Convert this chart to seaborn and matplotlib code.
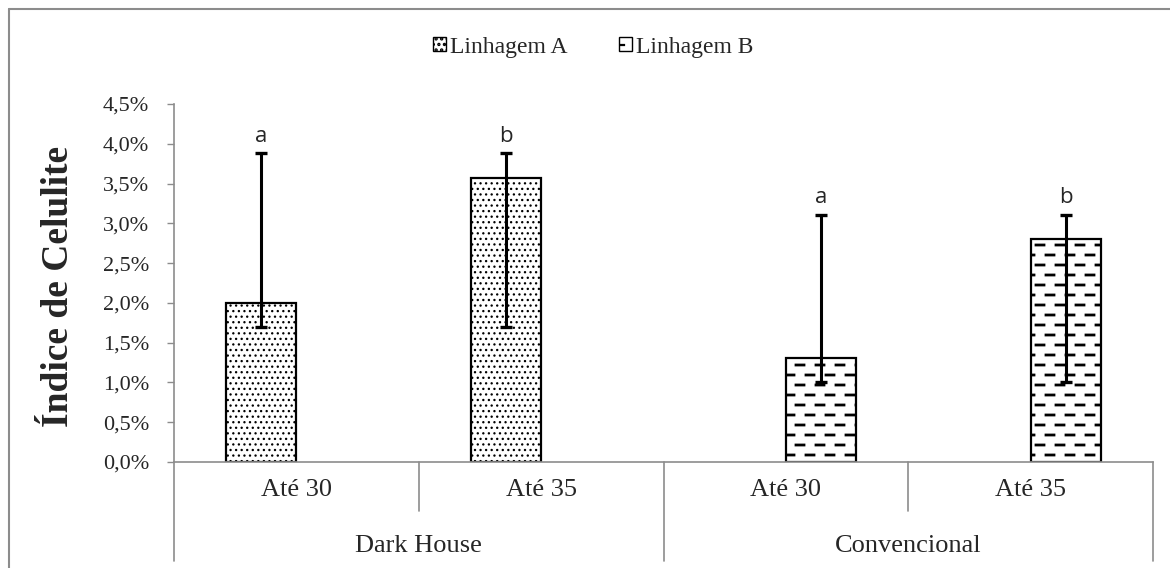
import numpy as np
import pandas as pd
import matplotlib
matplotlib.use("Agg")
import matplotlib.pyplot as plt
import matplotlib.hatch as mhatch
import matplotlib.transforms as mtransforms
from matplotlib.patches import Patch
from matplotlib.path import Path
import seaborn as sns

# data (percent)
groups = ["Dark House", "Dark House", "Convencional", "Convencional"]
periods = ["Até 30", "Até 35", "Até 30", "Até 35"]
linhagem = ["Linhagem A", "Linhagem A", "Linhagem B", "Linhagem B"]
indice = [2.0, 3.57, 1.31, 2.80]
err_low = [1.70, 1.70, 1.00, 1.00]
err_high = [3.88, 3.88, 3.11, 3.11]
letters = ["a", "b", "a", "b"]
yticks = [0.0, 0.5, 1.0, 1.5, 2.0, 2.5, 3.0, 3.5, 4.0, 4.5]

GRAY = "#8c8c8c"


class DashedRows(mhatch.HatchPatternBase):
    """Staggered dashed rows, like the Excel pattern fill (replaces '-')"""
    def __init__(self, hatch, density):
        n_rows = int((hatch.count('-') + hatch.count('+')) * density * 5 / 6)
        n_dash = 5
        dash = 0.08
        self.segments = []
        for r in range(n_rows):
            y = (r + 0.5) / n_rows
            if r % 2 == 0:
                centers = [(k + 0.5) / n_dash for k in range(n_dash)]
            else:
                centers = [k / n_dash for k in range(n_dash + 1)]
            for c in centers:
                x0, x1 = max(0.0, c - dash / 2), min(1.0, c + dash / 2)
                self.segments.append((x0, x1, y))
        self.num_vertices = len(self.segments) * 2

    def set_vertices_and_codes(self, vertices, codes):
        for i, (x0, x1, y) in enumerate(self.segments):
            vertices[2 * i] = (x0, y)
            vertices[2 * i + 1] = (x1, y)
            codes[2 * i] = Path.MOVETO
            codes[2 * i + 1] = Path.LINETO


mhatch._hatch_types = [DashedRows if t is mhatch.HorizontalHatch else t
                       for t in mhatch._hatch_types]

DOTS = '...'
DASHES = '--'


def style_patch(p, hatch):
    p.set_hatch(hatch)
    # thinner dots, heavier dashes
    if hasattr(p, 'set_hatch_linewidth'):
        p.set_hatch_linewidth(0.9 if hatch == DOTS else 2.0)


def main():
    sns.set_style("white")
    plt.rcParams['font.family'] = ['Liberation Serif', 'DejaVu Serif']
    plt.rcParams['hatch.linewidth'] = 1.6

    df = pd.DataFrame({
        'grupo': groups,
        'periodo': periods,
        'linhagem': linhagem,
        'indice': indice,
        'low': err_low,
        'high': err_high,
        'letra': letters,
    })
    df['slot'] = df['grupo'] + " | " + df['periodo']

    fig = plt.figure(figsize=(11.7, 5.68), dpi=100)
    ax = fig.add_axes([174 / 1170, 1 - 462 / 568, 979 / 1170, 358 / 568])

    sns.barplot(data=df, x='slot', y='indice', hue='linhagem',
                order=list(df['slot']), hue_order=["Linhagem A", "Linhagem B"],
                width=0.572, dodge=True, errorbar=None,
                palette=['white', 'white'], edgecolor='black', linewidth=1.6,
                legend=False, ax=ax)

    hatches = [DOTS, DASHES]
    for cont, h in zip(ax.containers, hatches):
        for p in cont:
            style_patch(p, h)

    # error bars and letters at the bar centres
    bars = sorted(ax.patches, key=lambda p: p.get_x())
    xs = np.array([p.get_x() + p.get_width() / 2 for p in bars])
    vals = df['indice'].to_numpy()
    ax.errorbar(xs, vals, yerr=[vals - df['low'], df['high'] - vals],
                fmt='none', ecolor='black', elinewidth=2.2, capsize=4.5,
                capthick=2.4, zorder=5)
    for x, top, letra in zip(xs, df['high'], df['letra']):
        ax.annotate(letra, (x, top), xytext=(0, 8), textcoords='offset points',
                    ha='center', va='baseline', fontsize=16,
                    family=['Open Sans', 'DejaVu Sans'])

    # axes styling
    ax.set_ylim(0, 4.5)
    ax.set_xlim(-0.5, 3.5)
    ax.set_yticks(yticks)
    ax.set_yticklabels([f"{v:.1f}%".replace(".", ",") for v in yticks])
    ax.tick_params(axis='y', direction='out', length=5, width=1, color=GRAY,
                   pad=13, labelsize=16, left=True)
    ax.set_xticks(range(len(periods)))
    ax.set_xticklabels(periods)
    ax.tick_params(axis='x', length=0, pad=12, labelsize=19)
    ax.set_xlabel("")
    ax.set_ylabel("Índice de Celulite", fontsize=27, fontweight='bold')
    ax.yaxis.set_label_coords(-0.100, 0.49)
    sns.despine(ax=ax)
    for side in ['left', 'bottom']:
        ax.spines[side].set_color(GRAY)
        ax.spines[side].set_linewidth(1.2)

    # two-level category axis
    trans = mtransforms.blended_transform_factory(ax.transData, ax.transAxes)
    for x in [-0.5, 1.5, 3.5]:
        ax.plot([x, x], [0, -0.277], color=GRAY, lw=1.2, transform=trans, clip_on=False)
    for x in [0.5, 2.5]:
        ax.plot([x, x], [0, -0.137], color=GRAY, lw=1.2, transform=trans, clip_on=False)
    for grupo in ["Dark House", "Convencional"]:
        pos = np.mean([i for i, g in enumerate(groups) if g == grupo])
        ax.text(pos, -0.235, grupo, transform=trans, ha='center', va='center', fontsize=19)

    handles = []
    for h, l in zip(hatches, ["Linhagem A", "Linhagem B"]):
        hp = Patch(facecolor='white', edgecolor='black', label=l)
        style_patch(hp, h)
        handles.append(hp)
    fig.legend(handles=handles, loc='center', bbox_to_anchor=(0.507, 0.917),
               ncol=2, frameon=False, fontsize=17, handlelength=0.55,
               handleheight=0.55, handletextpad=0.15, columnspacing=2.2)

    # chart-area border
    fig.add_artist(plt.Line2D([9 / 1170, 9 / 1170], [0, 1 - 9 / 568], color=GRAY, lw=1.5))
    fig.add_artist(plt.Line2D([9 / 1170, 1], [1 - 9 / 568, 1 - 9 / 568], color=GRAY, lw=1.5))

    fig.savefig("out.png", dpi=100)


if __name__ == "__main__":
    main()
